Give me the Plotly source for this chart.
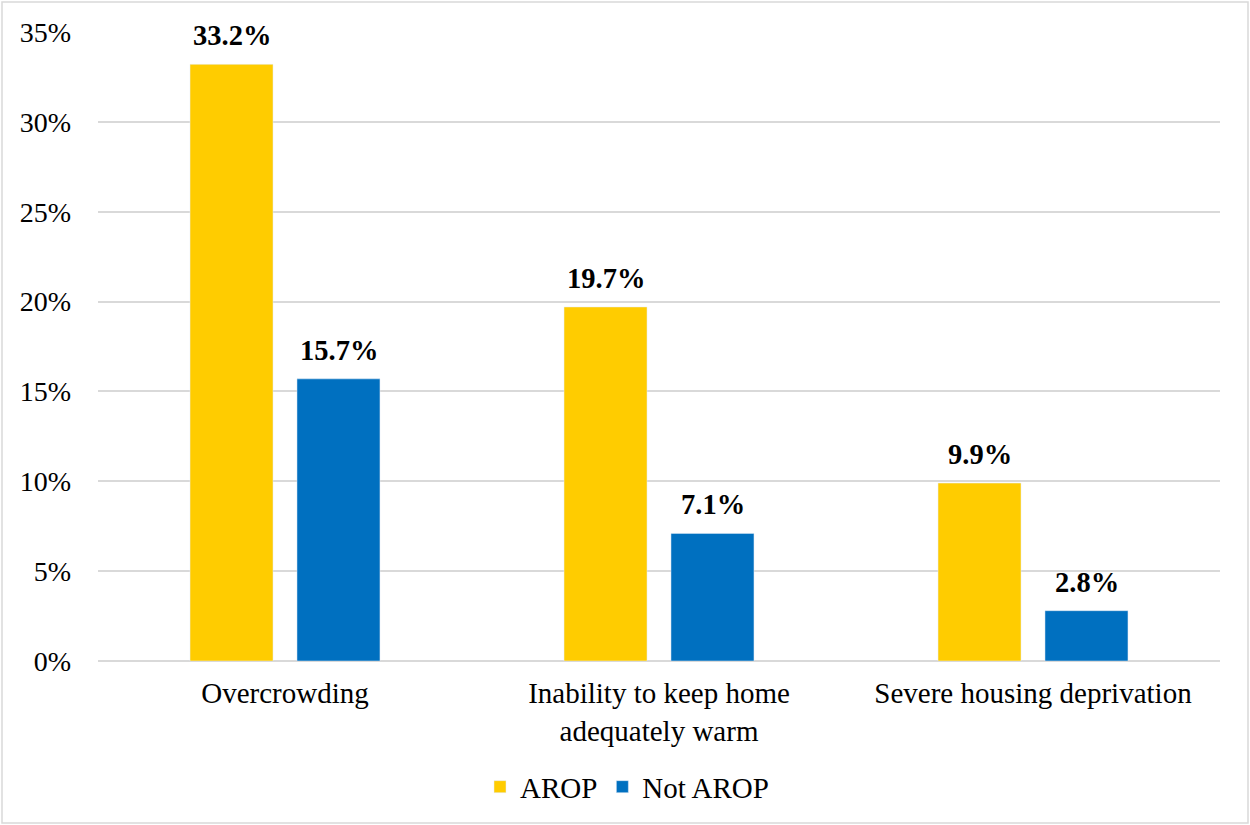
import plotly.graph_objects as go

categories = ["Overcrowding", "Inability to keep home<br>adequately warm", "Severe housing deprivation"]
arop = [33.2, 19.7, 9.9]
not_arop = [15.7, 7.1, 2.8]
series_names = ["AROP", "Not AROP"]
tick_vals = [0, 5, 10, 15, 20, 25, 30, 35]
tick_text = ["0%", "5%", "10%", "15%", "20%", "25%", "30%", "35%"]

FONT = "Liberation Serif, Times New Roman, serif"
colors = ["#FFCC00", "#0070C0"]
shifts = [-53.5, 53.5]

fig = go.Figure()
for name, vals, col, sh in zip(series_names, [arop, not_arop], colors, shifts):
    fig.add_trace(go.Bar(x=categories, y=vals, name=name, marker_color=col))
    for c, v in zip(categories, vals):
        fig.add_annotation(x=c, y=v, xref="x", yref="y", text=f"<b>{v:.1f}%</b>",
                           showarrow=False, xshift=sh, yshift=11, yanchor="bottom",
                           font=dict(family=FONT, size=28.5, color="black"))

fig.update_layout(
    width=1250, height=825,
    margin=dict(l=98, r=30, t=32, b=164),
    paper_bgcolor="white", plot_bgcolor="white",
    barmode="group", bargap=0.428, bargroupgap=0.224,
    font=dict(family=FONT, size=29, color="black"),
    legend=dict(orientation="h", x=0.5 - 32 / 1122, xanchor="center", y=-0.2, yanchor="middle",
                font=dict(family=FONT, size=29, color="black"), itemwidth=30,
                traceorder="normal"),
)
fig.update_yaxes(range=[0, 35], tickvals=tick_vals, ticktext=tick_text,
                 showgrid=True, gridcolor="#D9D9D9", gridwidth=1.5,
                 zeroline=True, zerolinecolor="#D9D9D9", zerolinewidth=1.5,
                 showline=False, ticks="", ticklabelstandoff=26,
                 tickfont=dict(family=FONT, size=28, color="black"))
fig.update_xaxes(showline=False, ticks="", ticklabelstandoff=12,
                 tickfont=dict(family=FONT, size=29, color="black"))

fig.add_shape(type="rect", xref="paper", yref="paper",
              x0=(2 - 98) / 1122, x1=(1248 - 98) / 1122,
              y0=(661 - 823) / 629, y1=(661 - 2) / 629,
              line=dict(color="#D9D9D9", width=1.5), fillcolor="rgba(0,0,0,0)", layer="below")

fig.write_html("out.html", post_script="document.body.style.margin='0';",
               config={"displayModeBar": False})
